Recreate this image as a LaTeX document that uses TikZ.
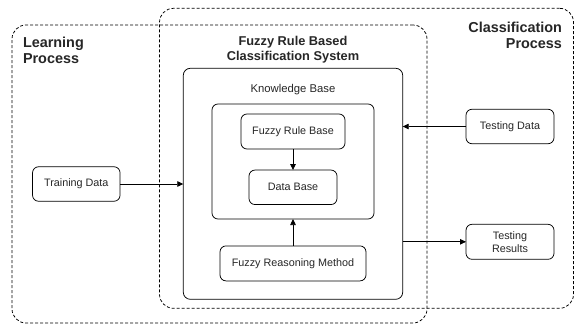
\documentclass[tikz,border=0pt]{standalone}
\usepackage{fontspec}
\setmainfont{Liberation Sans}
\usetikzlibrary{arrows.meta}
\begin{document}
\begin{tikzpicture}[x=1pt,y=-1pt,
  every node/.style={inner sep=0pt, outer sep=0pt, text=black!85},
  region/.style={draw, dash pattern=on 3pt off 2pt, rounded corners=14pt, line width=0.75pt},
  frame/.style={draw, rounded corners=7pt, line width=0.75pt},
  box/.style={draw, rounded corners=6pt, line width=0.75pt, align=center,
    font=\fontsize{10.8}{13}\selectfont},
  heading/.style={font=\fontsize{14.4}{16}\selectfont\bfseries},
  flow/.style={line width=0.75pt, -{Triangle[length=6pt,width=5.5pt]}}]
\useasboundingbox (0,0) rectangle (575,325);

% process regions
\node[region, minimum width=415pt, minimum height=298pt] (learning) at (219.5,174) {};
\node[region, minimum width=414pt, minimum height=300pt] (classification) at (366.5,158.3) {};

\node[heading, anchor=west, align=left] (learnlbl) at (23,50) {Learning\\Process};
\node[heading, anchor=east, align=right] (classlbl) at (562,35) {Classification\\Process};

% the classification system and its knowledge base
\node[frame, minimum width=219.4pt, minimum height=231pt] (frbcs) at (293,183.8) {};
\node[font=\fontsize{12.8}{14.5}\selectfont\bfseries, align=center] (frbcslbl) at (293,49.5)
  {Fuzzy Rule Based\\Classification System};
\node[font=\fontsize{11.3}{13}\selectfont] (kblbl) at (293,90) {Knowledge Base};
\node[frame, rounded corners=6pt, minimum width=162pt, minimum height=115pt] (kb) at (293,161.5) {};

\node[box, minimum width=104pt, minimum height=35pt] (frb) at (293,131.5) {Fuzzy Rule Base};
\node[box, minimum width=88pt, minimum height=34.5pt] (db) at (293,187.3) {Data Base};
\node[box, minimum width=146pt, minimum height=35pt] (frm) at (293,263.4) {Fuzzy Reasoning Method};

% data sources and results
\node[box, minimum width=87.5pt, minimum height=34.5pt] (train) at (76.3,184) {Training Data};
\node[box, minimum width=88pt, minimum height=34.5pt] (test) at (510,126.5) {Testing Data};
\node[box, minimum width=88pt, minimum height=35pt] (results) at (510,241.8) {Testing\\Results};

% connectors
\draw[flow] (frb) -- (db);
\draw[flow] (frm) -- (kb);
\draw[flow] (train) -- (train -| frbcs.west);
\draw[flow] (test) -- (test -| frbcs.east);
\draw[flow] (results -| frbcs.east) -- (results);
\end{tikzpicture}
\end{document}
